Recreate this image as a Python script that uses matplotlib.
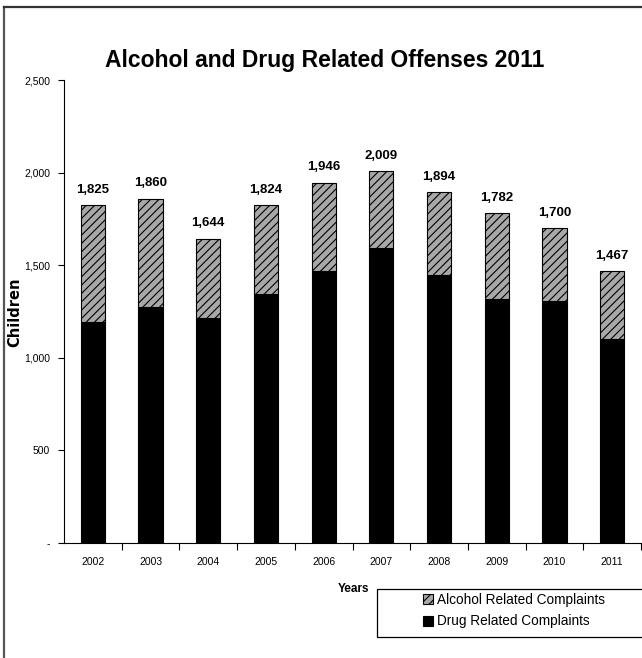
import matplotlib
matplotlib.use("Agg")
import matplotlib.pyplot as plt
from matplotlib.patches import Rectangle
import numpy as np

years = ["2002", "2003", "2004", "2005", "2006", "2007", "2008", "2009", "2010", "2011"]
totals = [1825, 1860, 1644, 1824, 1946, 2009, 1894, 1782, 1700, 1467]
drug = [1195, 1276, 1217, 1346, 1469, 1595, 1449, 1318, 1309, 1103]
alcohol = [t - d for t, d in zip(totals, drug)]
yticks = [0, 500, 1000, 1500, 2000, 2500]
ytick_labels = ["-", "500", "1,000", "1,500", "2,000", "2,500"]

plt.rcParams['font.family'] = ['Liberation Sans', 'DejaVu Sans']
plt.rcParams['hatch.color'] = '#3a3a3a'
plt.rcParams['hatch.linewidth'] = 0.8

fig = plt.figure(figsize=(6.42, 6.58), dpi=100)
# outer border (top and left visible)
fig.add_artist(plt.Line2D([4/642, 4/642], [0, 1 - 7/658], transform=fig.transFigure, color='#555555', lw=1.6))
fig.add_artist(plt.Line2D([4/642, 1], [1 - 7/658, 1 - 7/658], transform=fig.transFigure, color='#333333', lw=1.6))

ax = fig.add_axes([64/642, 1 - 543/658, 577/642, (543 - 80)/658])
x = np.arange(len(years))
w = 0.42
ax.bar(x, drug, w, color='black', edgecolor='black', linewidth=0.8, label='Drug Related Complaints', zorder=2)
ax.bar(x, alcohol, w, bottom=drug, color='#a8a8a8', edgecolor='black', linewidth=0.8,
       hatch='////', label='Alcohol Related Complaints', zorder=2)

for xi, t in zip(x, totals):
    ax.text(xi, t + 50, f"{t:,}", ha='center', va='bottom', fontsize=9.5, fontweight='bold')

ax.set_xlim(-0.5, len(years) - 0.5)
ax.set_ylim(0, 2500)
ax.set_yticks(yticks)
ax.set_yticklabels(ytick_labels, fontsize=7.5)
ax.set_xticks(x)
ax.set_xticklabels(years, fontsize=7.5)
ax.set_xticks(np.arange(len(years)) + 0.5, minor=True)
ax.tick_params(axis='x', which='major', length=0, pad=10)
ax.tick_params(axis='x', which='minor', length=5, direction='out', width=0.8)
ax.tick_params(axis='y', length=4, direction='out', width=0.8, pad=6)

for s in ['top', 'right']:
    ax.spines[s].set_visible(False)
ax.spines['left'].set_linewidth(0.8)
ax.spines['bottom'].set_linewidth(0.8)

fig.text(325/642, 1 - 60/658, "Alcohol and Drug Related Offenses 2011", ha='center', va='center',
         fontsize=16.5, fontweight='bold')
fig.text(15/642, 1 - 312/658, "Children", rotation=90, ha='center', va='center',
         fontsize=10.5, fontweight='bold', family=['DejaVu Sans'])
fig.text(353/642, 1 - 589/658, "Years", ha='center', va='center', fontsize=8.5, fontweight='bold')

# legend box
fig.add_artist(Rectangle((377/642, 1 - 637/658), 300/642, 48/658, transform=fig.transFigure,
                         facecolor='white', edgecolor='black', linewidth=0.9, zorder=1))
handles, labels = ax.get_legend_handles_labels()
leg = fig.legend(handles[::-1], labels[::-1], loc='upper left',
                 bbox_to_anchor=(423/642, 1 - 593/658), fontsize=9.8,
                 frameon=False, borderpad=0,
                 handlelength=0.75, handleheight=0.75, handletextpad=0.25, labelspacing=0.55,
                 borderaxespad=0)
leg.set_zorder(3)

fig.savefig("out.png", dpi=100)
